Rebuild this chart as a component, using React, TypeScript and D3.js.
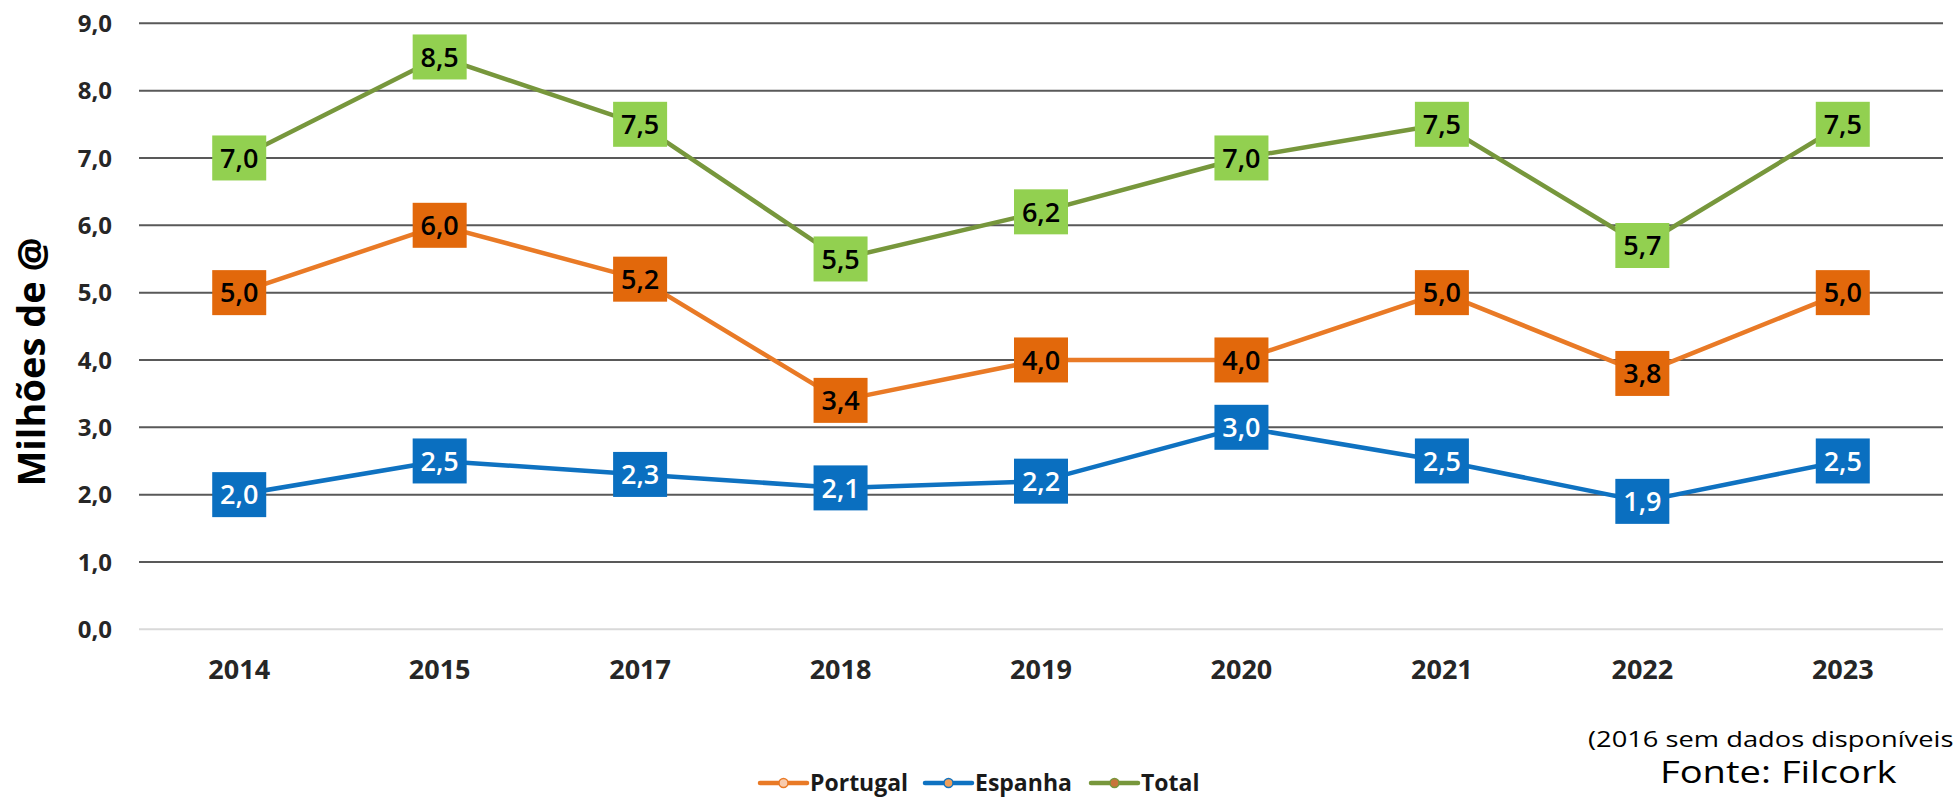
import React, { useRef, useEffect } from 'react';
import * as d3 from 'd3';

const years = ['2014', '2015', '2017', '2018', '2019', '2020', '2021', '2022', '2023'];
const portugal = [5.0, 6.0, 5.2, 3.4, 4.0, 4.0, 5.0, 3.8, 5.0];
const espanha = [2.0, 2.5, 2.3, 2.1, 2.2, 3.0, 2.5, 1.9, 2.5];
const total = [7.0, 8.5, 7.5, 5.5, 6.2, 7.0, 7.5, 5.7, 7.5];
const yTicks = [0, 1, 2, 3, 4, 5, 6, 7, 8, 9];

const series = [
    { name: 'Portugal', values: portugal, line: '#e97a26', box: '#e2680b', text: '#000', dot: '#f8cbad' },
    { name: 'Espanha', values: espanha, line: '#0f72c1', box: '#0a6fc0', text: '#fff', dot: '#f0a05a' },
    { name: 'Total', values: total, line: '#77973c', box: '#92d050', text: '#000', dot: '#c8743a' },
];

const fmt = (v: number) => v.toFixed(1).replace('.', ',');

export default function App() {
    const ref = useRef<SVGSVGElement>(null);

    useEffect(() => {
        const svg = d3.select(ref.current);
        svg.selectAll('*').remove();

        const left = 139;
        const right = 1943;
        const font = "'Open Sans', sans-serif";

        const x = d3.scaleBand().domain(years).range([left, right]);
        const y = d3.scaleLinear().domain([0, 9]).range([629.3, 23.3]);
        const cx = (d: string) => (x(d) as number) + x.bandwidth() / 2;

        // gridlines
        svg.append('g')
            .selectAll('line')
            .data(yTicks)
            .join('line')
            .attr('x1', left)
            .attr('x2', right)
            .attr('y1', d => y(d))
            .attr('y2', d => y(d))
            .attr('stroke', d => (d === 0 ? '#d9d9d9' : '#595959'))
            .attr('stroke-width', 2);

        // y tick labels
        svg.append('g')
            .selectAll('text')
            .data(yTicks)
            .join('text')
            .attr('x', 112)
            .attr('y', d => y(d))
            .attr('dy', '0.36em')
            .attr('text-anchor', 'end')
            .style('font-family', font)
            .style('font-weight', '700')
            .style('font-size', '24px')
            .style('fill', '#262626')
            .text(d => fmt(d));

        // x tick labels
        svg.append('g')
            .selectAll('text')
            .data(years)
            .join('text')
            .attr('x', d => cx(d))
            .attr('y', 679)
            .attr('text-anchor', 'middle')
            .style('font-family', font)
            .style('font-weight', '700')
            .style('font-size', '27px')
            .style('fill', '#262626')
            .text(d => d);

        // y axis title
        svg.append('text')
            .attr('transform', 'translate(45, 362) rotate(-90)')
            .attr('text-anchor', 'middle')
            .style('font-family', font)
            .style('font-weight', '700')
            .style('font-size', '38px')
            .style('fill', '#000')
            .text('Milhões de @');

        const line = d3.line<number>()
            .x((d, i) => cx(years[i]))
            .y(d => y(d));

        // lines
        svg.append('g')
            .selectAll('path')
            .data(series)
            .join('path')
            .attr('d', d => line(d.values))
            .attr('fill', 'none')
            .attr('stroke', d => d.line)
            .attr('stroke-width', 4.5)
            .attr('stroke-linejoin', 'round');

        // data labels
        series.forEach(s => {
            const g = svg.append('g')
                .selectAll('g')
                .data(s.values)
                .join('g')
                .attr('transform', (d, i) => `translate(${cx(years[i])}, ${y(d)})`);
            g.append('rect')
                .attr('x', -27)
                .attr('y', -22.5)
                .attr('width', 54)
                .attr('height', 45)
                .attr('fill', s.box);
            g.append('text')
                .attr('text-anchor', 'middle')
                .attr('dy', '0.36em')
                .style('font-family', font)
                .style('font-weight', '600')
                .style('font-size', '27px')
                .style('fill', s.text)
                .text(d => fmt(d));
        });

        // legend
        const legendX = [760, 925, 1091];
        const lg = svg.append('g')
            .selectAll('g')
            .data(series)
            .join('g')
            .attr('transform', (d, i) => `translate(${legendX[i]}, 783)`);
        lg.append('line')
            .attr('x1', 0)
            .attr('x2', 47)
            .attr('stroke', d => d.line)
            .attr('stroke-width', 4.5)
            .attr('stroke-linecap', 'round');
        lg.append('circle')
            .attr('cx', 23.5)
            .attr('r', 4.5)
            .attr('fill', d => d.dot)
            .attr('stroke', d => d.line)
            .attr('stroke-width', 1.5);
        lg.append('text')
            .attr('x', 50)
            .attr('dy', '0.36em')
            .style('font-family', font)
            .style('font-weight', '700')
            .style('font-size', '23px')
            .style('fill', '#1a1a1a')
            .text(d => d.name);

        // notes (text in the source is stretched horizontally)
        svg.append('text')
            .attr('transform', 'translate(1588, 747) scale(1.3, 1)')
            .style('font-family', font)
            .style('font-size', '21px')
            .style('fill', '#000')
            .text('(2016 sem dados disponíveis)');
        svg.append('text')
            .attr('transform', 'translate(1660, 783) scale(1.23, 1)')
            .style('font-family', font)
            .style('font-size', '31px')
            .style('fill', '#000')
            .text('Fonte: Filcork');
    }, []);

    return (
        <svg
            ref={ref}
            width={1953}
            height={799}
            style={{ position: 'absolute', left: 0, top: 0, background: '#fff' }}
        />
    );
}
